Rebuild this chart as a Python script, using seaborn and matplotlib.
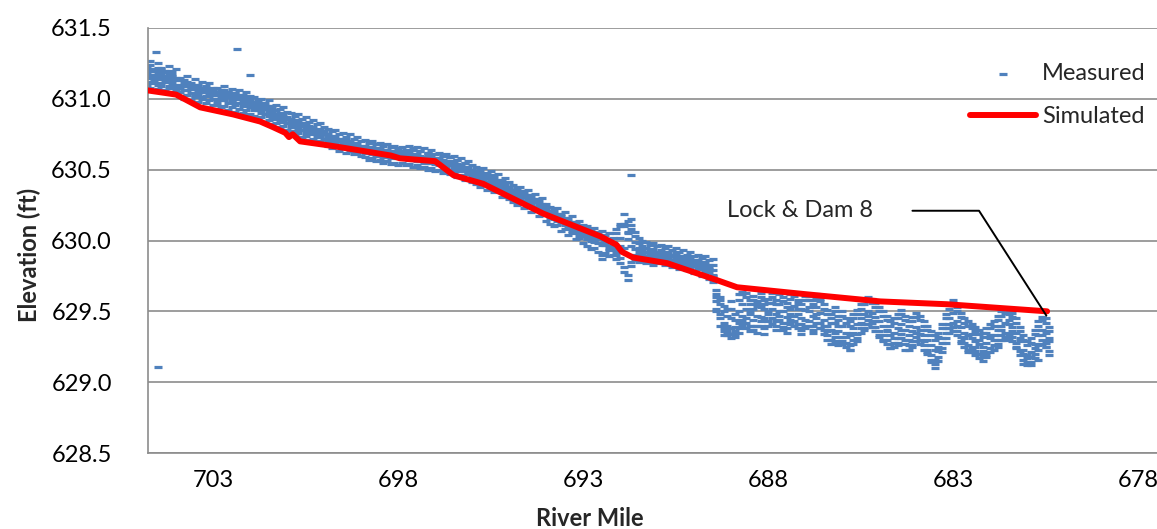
import matplotlib
matplotlib.use("Agg")
import matplotlib.pyplot as plt
import matplotlib.ticker as mticker
import numpy as np
import pandas as pd
import seaborn as sns

# river mile stations of the measured profile (0.1 mi apart)
station_mile = [
    704.8, 704.7, 704.6, 704.5, 704.4, 704.3, 704.2, 704.1, 704.0,
    703.9, 703.8, 703.7, 703.6, 703.5, 703.4, 703.3, 703.2, 703.1, 703.0,
    702.9, 702.8, 702.7, 702.6, 702.5, 702.4, 702.3, 702.2, 702.1, 702.0,
    701.9, 701.8, 701.7, 701.6, 701.5, 701.4, 701.3, 701.2, 701.1, 701.0,
    700.9, 700.8, 700.7, 700.6, 700.5, 700.4, 700.3, 700.2, 700.1, 700.0,
    699.9, 699.8, 699.7, 699.6, 699.5, 699.4, 699.3, 699.2, 699.1, 699.0,
    698.9, 698.8, 698.7, 698.6, 698.5, 698.4, 698.3, 698.2, 698.1, 698.0,
    697.9, 697.8, 697.7, 697.6, 697.5, 697.4, 697.3, 697.2, 697.1, 697.0,
    696.9, 696.8, 696.7, 696.6, 696.5, 696.4, 696.3, 696.2, 696.1, 696.0,
    695.9, 695.8, 695.7, 695.6, 695.5, 695.4, 695.3, 695.2, 695.1, 695.0,
    694.9, 694.8, 694.7, 694.6, 694.5, 694.4, 694.3, 694.2, 694.1, 694.0,
    693.9, 693.8, 693.7, 693.6, 693.5, 693.4, 693.3, 693.2, 693.1, 693.0,
    692.9, 692.8, 692.7, 692.6, 692.5, 692.4, 692.3, 692.2, 692.1, 692.0,
    691.9, 691.8, 691.7, 691.6, 691.5, 691.4, 691.3, 691.2, 691.1, 691.0,
    690.9, 690.8, 690.7, 690.6, 690.5, 690.4, 690.3, 690.2, 690.1, 690.0,
    689.9, 689.8, 689.7, 689.6, 689.5, 689.4, 689.3, 689.2, 689.1, 689.0,
    688.9, 688.8, 688.7, 688.6, 688.5, 688.4, 688.3, 688.2, 688.1, 688.0,
    687.9, 687.8, 687.7, 687.6, 687.5, 687.4, 687.3, 687.2, 687.1, 687.0,
    686.9, 686.8, 686.7, 686.6, 686.5, 686.4, 686.3, 686.2, 686.1, 686.0,
    685.9, 685.8, 685.7, 685.6, 685.5, 685.4, 685.3, 685.2, 685.1, 685.0,
    684.9, 684.8, 684.7, 684.6, 684.5, 684.4, 684.3, 684.2, 684.1, 684.0,
    683.9, 683.8, 683.7, 683.6, 683.5, 683.4, 683.3, 683.2, 683.1, 683.0,
    682.9, 682.8, 682.7, 682.6, 682.5, 682.4, 682.3, 682.2, 682.1, 682.0,
    681.9, 681.8, 681.7, 681.6, 681.5, 681.4, 681.3, 681.2, 681.1, 681.0,
    680.9, 680.8, 680.7, 680.6, 680.5, 680.4,
]

# six readings per station, spread across the measured band
meas_a = [
    631.22, 631.24, 631.17, 631.19, 631.21, 631.16, 631.18, 631.14, 631.15,
    631.13, 631.09, 631.12, 631.07, 631.10, 631.06, 631.08, 631.05, 631.07, 631.03,
    631.05, 631.02, 631.06, 631.01, 631.04, 631.00, 631.03, 630.99, 631.02, 630.98,
    630.98, 630.95, 630.97, 630.93, 630.95, 630.91, 630.92, 630.88, 630.89, 630.86,
    630.86, 630.83, 630.85, 630.81, 630.83, 630.79, 630.80, 630.77, 630.78, 630.75,
    630.75, 630.72, 630.74, 630.70, 630.72, 630.69, 630.70, 630.67, 630.69, 630.66,
    630.67, 630.64, 630.66, 630.63, 630.65, 630.62, 630.64, 630.61, 630.63, 630.60,
    630.63, 630.60, 630.62, 630.64, 630.61, 630.63, 630.59, 630.62, 630.60, 630.58,
    630.58, 630.60, 630.56, 630.59, 630.55, 630.57, 630.53, 630.55, 630.51, 630.50,
    630.49, 630.46, 630.47, 630.44, 630.45, 630.42, 630.43, 630.39, 630.40, 630.37,
    630.36, 630.33, 630.35, 630.31, 630.32, 630.28, 630.29, 630.25, 630.26, 630.22,
    630.21, 630.18, 630.19, 630.15, 630.16, 630.12, 630.13, 630.09, 630.10, 630.07,
    630.06, 630.03, 630.04, 630.01, 630.02, 629.99, 630.00, 629.97, 630.05, 630.10,
    630.19, 630.14, 630.08, 630.03, 629.98, 629.96, 629.95, 629.93, 629.94, 629.92,
    629.93, 629.91, 629.92, 629.89, 629.91, 629.88, 629.89, 629.86, 629.88, 629.85,
    629.86, 629.84, 629.85, 629.81, 629.83, 629.60, 629.55, 629.50, 629.47, 629.52,
    629.44, 629.58, 629.62, 629.60, 629.55, 629.58, 629.54, 629.60, 629.52, 629.56,
    629.60, 629.55, 629.62, 629.57, 629.53, 629.59, 629.61, 629.56, 629.52, 629.58,
    629.58, 629.55, 629.60, 629.57, 629.52, 629.48, 629.45, 629.50, 629.44, 629.47,
    629.42, 629.40, 629.45, 629.48, 629.52, 629.55, 629.58, 629.56, 629.53, 629.50,
    629.47, 629.44, 629.40, 629.42, 629.45, 629.48, 629.44, 629.40, 629.43, 629.46,
    629.44, 629.40, 629.37, 629.33, 629.30, 629.32, 629.38, 629.45, 629.52, 629.56,
    629.50, 629.46, 629.42, 629.40, 629.38, 629.36, 629.34, 629.32, 629.35, 629.38,
    629.40, 629.44, 629.47, 629.49, 629.48, 629.46, 629.42, 629.36, 629.30, 629.26,
    629.28, 629.34, 629.40, 629.44, 629.42, 629.36,
]
meas_b = [
    631.15, 631.12, 631.20, 631.14, 631.11, 631.19, 631.13, 631.16, 631.10,
    631.08, 631.12, 631.06, 631.10, 631.04, 631.09, 631.05, 631.08, 631.02, 631.06,
    631.00, 631.04, 630.99, 631.03, 630.98, 631.02, 630.97, 631.01, 630.96, 631.00,
    630.94, 630.97, 630.92, 630.95, 630.90, 630.93, 630.88, 630.90, 630.85, 630.87,
    630.82, 630.85, 630.80, 630.83, 630.78, 630.81, 630.76, 630.79, 630.74, 630.77,
    630.71, 630.74, 630.69, 630.72, 630.68, 630.71, 630.66, 630.69, 630.65, 630.67,
    630.63, 630.66, 630.62, 630.65, 630.61, 630.64, 630.60, 630.63, 630.59, 630.62,
    630.59, 630.62, 630.58, 630.61, 630.57, 630.60, 630.56, 630.59, 630.55, 630.57,
    630.55, 630.57, 630.53, 630.56, 630.52, 630.54, 630.50, 630.52, 630.48, 630.47,
    630.45, 630.48, 630.43, 630.46, 630.41, 630.44, 630.39, 630.41, 630.36, 630.38,
    630.32, 630.35, 630.30, 630.33, 630.27, 630.30, 630.24, 630.27, 630.21, 630.24,
    630.17, 630.20, 630.15, 630.17, 630.12, 630.14, 630.09, 630.11, 630.05, 630.08,
    630.02, 630.05, 630.00, 630.03, 629.98, 630.01, 629.96, 629.99, 629.94, 630.02,
    630.12, 630.06, 630.15, 629.99, 629.95, 629.93, 629.92, 629.90, 629.91, 629.89,
    629.90, 629.92, 629.88, 629.90, 629.87, 629.89, 629.85, 629.87, 629.84, 629.86,
    629.82, 629.85, 629.80, 629.83, 629.79, 629.52, 629.48, 629.42, 629.40, 629.45,
    629.36, 629.50, 629.55, 629.52, 629.48, 629.52, 629.47, 629.53, 629.45, 629.50,
    629.52, 629.48, 629.55, 629.50, 629.46, 629.52, 629.54, 629.48, 629.45, 629.51,
    629.50, 629.47, 629.53, 629.49, 629.44, 629.40, 629.37, 629.42, 629.36, 629.40,
    629.35, 629.33, 629.38, 629.41, 629.45, 629.48, 629.50, 629.49, 629.46, 629.43,
    629.40, 629.37, 629.33, 629.35, 629.38, 629.41, 629.37, 629.33, 629.36, 629.39,
    629.37, 629.33, 629.30, 629.26, 629.23, 629.25, 629.31, 629.38, 629.45, 629.49,
    629.43, 629.39, 629.35, 629.33, 629.31, 629.29, 629.27, 629.25, 629.28, 629.31,
    629.33, 629.37, 629.40, 629.42, 629.41, 629.39, 629.35, 629.29, 629.23, 629.19,
    629.21, 629.27, 629.33, 629.37, 629.35, 629.29,
]
meas_c = [
    631.19, 631.17, 631.13, 631.22, 631.16, 631.12, 631.20, 631.11, 631.13,
    631.10, 631.06, 631.09, 631.04, 631.08, 631.03, 631.07, 631.02, 631.05, 631.00,
    631.03, 630.99, 631.02, 630.97, 631.01, 630.96, 631.00, 630.95, 630.99, 630.94,
    630.96, 630.92, 630.94, 630.89, 630.92, 630.87, 630.89, 630.85, 630.87, 630.83,
    630.84, 630.80, 630.82, 630.78, 630.80, 630.76, 630.78, 630.74, 630.76, 630.72,
    630.73, 630.70, 630.71, 630.67, 630.70, 630.66, 630.68, 630.65, 630.67, 630.64,
    630.65, 630.62, 630.64, 630.60, 630.63, 630.59, 630.62, 630.58, 630.61, 630.58,
    630.61, 630.58, 630.60, 630.57, 630.59, 630.56, 630.58, 630.55, 630.57, 630.54,
    630.57, 630.54, 630.55, 630.53, 630.54, 630.51, 630.52, 630.49, 630.50, 630.45,
    630.47, 630.43, 630.45, 630.41, 630.43, 630.39, 630.41, 630.37, 630.38, 630.34,
    630.34, 630.30, 630.32, 630.28, 630.29, 630.25, 630.27, 630.22, 630.24, 630.19,
    630.19, 630.15, 630.17, 630.13, 630.14, 630.10, 630.11, 630.06, 630.08, 630.03,
    630.04, 630.00, 630.02, 629.98, 629.87, 629.97, 629.94, 629.95, 629.92, 629.96,
    629.95, 630.01, 629.96, 629.94, 629.92, 629.90, 629.89, 629.92, 629.88, 629.90,
    629.91, 629.88, 629.90, 629.86, 629.88, 629.85, 629.87, 629.83, 629.85, 629.82,
    629.84, 629.80, 629.82, 629.78, 629.76, 629.57, 629.60, 629.38, 629.35, 629.38,
    629.32, 629.42, 629.47, 629.45, 629.40, 629.44, 629.40, 629.46, 629.38, 629.43,
    629.45, 629.40, 629.47, 629.42, 629.38, 629.44, 629.47, 629.41, 629.37, 629.44,
    629.43, 629.40, 629.45, 629.42, 629.37, 629.33, 629.30, 629.35, 629.29, 629.32,
    629.28, 629.26, 629.30, 629.34, 629.38, 629.41, 629.44, 629.42, 629.39, 629.36,
    629.33, 629.30, 629.27, 629.28, 629.31, 629.34, 629.30, 629.26, 629.29, 629.32,
    629.30, 629.26, 629.23, 629.19, 629.16, 629.18, 629.24, 629.31, 629.38, 629.42,
    629.36, 629.32, 629.28, 629.26, 629.24, 629.22, 629.20, 629.18, 629.21, 629.24,
    629.26, 629.30, 629.33, 629.35, 629.34, 629.32, 629.28, 629.22, 629.16, 629.14,
    629.14, 629.20, 629.26, 629.30, 629.28, 629.22,
]
meas_d = [
    631.12, 631.20, 631.15, 631.10, 631.18, 631.14, 631.09, 631.17, 631.08,
    631.05, 631.10, 631.03, 631.08, 631.02, 631.07, 631.01, 631.06, 631.03, 631.05,
    630.98, 631.06, 631.00, 631.05, 630.99, 631.04, 631.01, 630.97, 631.00, 630.96,
    630.92, 630.96, 630.90, 630.94, 630.88, 630.91, 630.86, 630.89, 630.84, 630.86,
    630.80, 630.84, 630.78, 630.82, 630.76, 630.79, 630.75, 630.77, 630.73, 630.75,
    630.70, 630.73, 630.68, 630.71, 630.67, 630.70, 630.65, 630.68, 630.63, 630.66,
    630.62, 630.65, 630.61, 630.64, 630.60, 630.62, 630.59, 630.61, 630.60, 630.63,
    630.58, 630.61, 630.57, 630.60, 630.56, 630.59, 630.55, 630.61, 630.58, 630.56,
    630.53, 630.56, 630.52, 630.54, 630.50, 630.53, 630.49, 630.51, 630.47, 630.49,
    630.44, 630.47, 630.42, 630.44, 630.40, 630.42, 630.38, 630.40, 630.35, 630.36,
    630.31, 630.34, 630.29, 630.31, 630.26, 630.29, 630.23, 630.25, 630.20, 630.21,
    630.16, 630.19, 630.14, 630.16, 630.11, 630.13, 630.07, 630.09, 630.04, 630.05,
    630.01, 630.04, 629.99, 630.02, 629.97, 629.99, 629.93, 629.96, 629.90, 629.88,
    629.78, 629.72, 629.82, 629.90, 629.89, 629.91, 629.87, 629.88, 629.86, 629.87,
    629.88, 629.90, 629.86, 629.89, 629.85, 629.87, 629.84, 629.86, 629.82, 629.84,
    629.80, 629.83, 629.78, 629.80, 629.75, 629.62, 629.45, 629.33, 629.36, 629.31,
    629.39, 629.35, 629.40, 629.38, 629.50, 629.37, 629.55, 629.40, 629.58, 629.48,
    629.56, 629.43, 629.50, 629.37, 629.42, 629.48, 629.40, 629.52, 629.41, 629.38,
    629.53, 629.35, 629.48, 629.38, 629.40, 629.36, 629.42, 629.28, 629.40, 629.27,
    629.32, 629.23, 629.35, 629.29, 629.42, 629.37, 629.47, 629.39, 629.43, 629.32,
    629.29, 629.36, 629.24, 629.31, 629.26, 629.37, 629.23, 629.30, 629.25, 629.35,
    629.34, 629.29, 629.21, 629.14, 629.10, 629.22, 629.28, 629.35, 629.41, 629.36,
    629.40, 629.28, 629.31, 629.21, 629.34, 629.25, 629.30, 629.22, 629.19, 629.33,
    629.30, 629.25, 629.37, 629.30, 629.44, 629.36, 629.24, 629.31, 629.20, 629.17,
    629.18, 629.24, 629.16, 629.33, 629.25, 629.31,
]
# upper edge of the band
meas_e = [
    631.24, 631.27, 631.21, 631.25, 631.22, 631.20, 631.23, 631.19, 631.21,
    631.15, 631.13, 631.16, 631.11, 631.14, 631.10, 631.12, 631.09, 631.11, 631.08,
    631.08, 631.06, 631.09, 631.05, 631.07, 631.04, 631.06, 631.03, 631.05, 631.02,
    631.01, 630.99, 631.00, 630.97, 630.99, 630.95, 630.96, 630.93, 630.94, 630.91,
    630.90, 630.88, 630.89, 630.86, 630.87, 630.84, 630.85, 630.82, 630.83, 630.80,
    630.79, 630.77, 630.78, 630.75, 630.76, 630.73, 630.75, 630.72, 630.73, 630.70,
    630.71, 630.69, 630.70, 630.68, 630.69, 630.67, 630.68, 630.66, 630.67, 630.65,
    630.66, 630.64, 630.67, 630.65, 630.66, 630.63, 630.65, 630.62, 630.64, 630.61,
    630.62, 630.60, 630.61, 630.59, 630.60, 630.57, 630.58, 630.55, 630.56, 630.53,
    630.52, 630.50, 630.51, 630.48, 630.49, 630.46, 630.47, 630.43, 630.44, 630.41,
    630.39, 630.37, 630.38, 630.35, 630.36, 630.32, 630.33, 630.29, 630.30, 630.26,
    630.24, 630.22, 630.23, 630.19, 630.20, 630.16, 630.17, 630.13, 630.14, 630.11,
    630.10, 630.08, 630.09, 630.06, 630.07, 630.04, 630.05, 630.02, 630.08, 630.12,
    630.10, 630.05, 630.11, 630.06, 630.02, 630.00, 629.99, 629.97, 629.98, 629.96,
    629.97, 629.95, 629.96, 629.93, 629.95, 629.92, 629.93, 629.90, 629.92, 629.89,
    629.90, 629.88, 629.89, 629.86, 629.87, 629.65, 629.58, 629.54, 629.52, 629.57,
    629.48, 629.62, 629.64, 629.63, 629.58, 629.61, 629.57, 629.63, 629.55, 629.59,
    629.63, 629.58, 629.64, 629.60, 629.56, 629.62, 629.63, 629.58, 629.55, 629.61,
    629.61, 629.58, 629.62, 629.59, 629.55, 629.51, 629.48, 629.53, 629.47, 629.50,
    629.45, 629.43, 629.48, 629.51, 629.55, 629.58, 629.60, 629.59, 629.56, 629.53,
    629.50, 629.47, 629.43, 629.45, 629.48, 629.51, 629.47, 629.43, 629.46, 629.49,
    629.47, 629.43, 629.40, 629.36, 629.33, 629.35, 629.41, 629.48, 629.55, 629.58,
    629.53, 629.49, 629.45, 629.43, 629.41, 629.39, 629.37, 629.35, 629.38, 629.41,
    629.43, 629.47, 629.50, 629.52, 629.51, 629.49, 629.45, 629.39, 629.33, 629.29,
    629.31, 629.37, 629.43, 629.46, 629.45, 629.39,
]
# lower edge of the band
meas_f = [
    631.10, 631.08, 631.11, 631.07, 631.09, 631.06, 631.08, 631.05, 631.06,
    631.02, 631.00, 631.03, 630.99, 631.01, 630.98, 631.00, 630.97, 630.99, 630.96,
    630.96, 630.94, 630.95, 630.92, 630.94, 630.91, 630.93, 630.90, 630.92, 630.89,
    630.88, 630.86, 630.87, 630.84, 630.85, 630.82, 630.83, 630.80, 630.81, 630.78,
    630.77, 630.75, 630.76, 630.73, 630.74, 630.71, 630.72, 630.69, 630.70, 630.68,
    630.67, 630.65, 630.66, 630.63, 630.65, 630.62, 630.63, 630.61, 630.62, 630.60,
    630.59, 630.57, 630.58, 630.56, 630.57, 630.55, 630.56, 630.54, 630.55, 630.53,
    630.55, 630.53, 630.54, 630.52, 630.53, 630.51, 630.52, 630.50, 630.51, 630.49,
    630.50, 630.48, 630.49, 630.47, 630.48, 630.45, 630.46, 630.43, 630.44, 630.41,
    630.40, 630.38, 630.39, 630.36, 630.37, 630.34, 630.35, 630.31, 630.32, 630.29,
    630.27, 630.25, 630.26, 630.23, 630.24, 630.20, 630.21, 630.17, 630.18, 630.14,
    630.12, 630.10, 630.11, 630.07, 630.08, 630.04, 630.05, 630.01, 630.02, 629.98,
    629.96, 629.94, 629.95, 629.92, 629.90, 629.91, 629.89, 629.90, 629.87, 629.84,
    629.81, 629.76, 629.85, 629.86, 629.85, 629.86, 629.84, 629.85, 629.83, 629.84,
    629.85, 629.83, 629.84, 629.81, 629.83, 629.80, 629.82, 629.79, 629.80, 629.77,
    629.77, 629.75, 629.76, 629.73, 629.71, 629.50, 629.40, 629.36, 629.33, 629.34,
    629.34, 629.38, 629.44, 629.42, 629.36, 629.40, 629.35, 629.43, 629.34, 629.40,
    629.41, 629.37, 629.44, 629.39, 629.35, 629.41, 629.43, 629.38, 629.34, 629.40,
    629.40, 629.37, 629.42, 629.38, 629.34, 629.30, 629.27, 629.32, 629.26, 629.29,
    629.25, 629.23, 629.27, 629.31, 629.35, 629.38, 629.41, 629.39, 629.36, 629.33,
    629.30, 629.27, 629.24, 629.25, 629.28, 629.31, 629.27, 629.23, 629.26, 629.29,
    629.27, 629.23, 629.20, 629.16, 629.13, 629.15, 629.21, 629.28, 629.35, 629.39,
    629.33, 629.29, 629.25, 629.23, 629.21, 629.19, 629.17, 629.15, 629.18, 629.21,
    629.23, 629.27, 629.30, 629.32, 629.31, 629.29, 629.25, 629.19, 629.13, 629.12,
    629.12, 629.17, 629.23, 629.27, 629.25, 629.19,
]

# stray readings away from the main band
outlier_mile = [704.55, 704.5, 702.35, 702.0, 691.7]
outlier_elev = [631.33, 629.11, 631.35, 631.17, 630.46]

# simulated water surface profile
sim_mile = [704.78, 704.0, 703.35, 702.46, 701.73, 701.38, 701.05, 700.95, 700.85,
            700.65, 699.84, 698.9, 698.2, 697.95, 697.0, 696.7, 696.5, 695.7,
            694.08, 692.54, 692.1, 691.95, 691.65, 690.73, 689.38, 688.84,
            686.95, 684.97, 683.16, 680.46]
sim_elev = [631.06, 631.03, 630.94, 630.89, 630.84, 630.80, 630.76, 630.73, 630.75,
            630.70, 630.67, 630.63, 630.60, 630.58, 630.56, 630.50, 630.46, 630.40,
            630.19, 630.03, 629.97, 629.92, 629.88, 629.84, 629.72, 629.67,
            629.62, 629.57, 629.55, 629.50]

# callout for the dam
note_text = "Lock & Dam 8"
note_mile = [684.1, 682.3, 680.48]
note_elev = [630.21, 630.21, 629.47]

stations = pd.DataFrame({"mile": station_mile, "a": meas_a, "b": meas_b,
                         "c": meas_c, "d": meas_d, "e": meas_e, "f": meas_f})
measured = stations.melt(id_vars="mile", value_name="elev")[["mile", "elev"]]
measured = pd.concat([measured, pd.DataFrame({"mile": outlier_mile,
                                              "elev": outlier_elev})])
simulated = pd.DataFrame({"mile": sim_mile, "elev": sim_elev})

sns.set_style("white")
plt.rcParams["font.family"] = ["Lato", "DejaVu Sans"]

fig = plt.figure(figsize=(11.57, 5.29), dpi=100)
ax = fig.add_axes([148 / 1157, 76 / 529, 1009 / 1157, 425 / 529])

sns.scatterplot(data=measured, x="mile", y="elev", marker="_", s=28,
                linewidth=2.3, color="#4F81BD", label="Measured", ax=ax,
                zorder=2)
sns.lineplot(data=simulated, x="mile", y="elev", color="#FF0000", linewidth=4.3,
             label="Simulated", ax=ax, zorder=3)

ax.plot(note_mile, note_elev, color="black", linewidth=1.4, zorder=4)
ax.text(689.1, 630.21, note_text, ha="left", va="center", fontsize=17)

ax.set_xlim(704.76, 677.49)
ax.set_ylim(628.5, 631.5)
ax.set_xticks([703, 698, 693, 688, 683, 678])
ax.set_yticks(np.arange(628.5, 631.51, 0.5))
ax.yaxis.set_major_formatter(mticker.FormatStrFormatter("%.1f"))
ax.tick_params(axis="both", labelsize=17, colors="black")
ax.tick_params(axis="x", length=0, pad=12)
ax.tick_params(axis="y", length=0, pad=26)
ax.grid(axis="y", color="#8C8C8C", linewidth=1.2)
ax.grid(axis="x", visible=False)

for side in ["top", "right"]:
    ax.spines[side].set_visible(False)
for side in ["left", "bottom"]:
    ax.spines[side].set_color("#8C8C8C")
    ax.spines[side].set_linewidth(1.2)

ax.set_xlabel("River Mile", fontsize=17, fontweight="bold")
ax.set_ylabel("Elevation (ft)", fontsize=17, fontweight="bold")
ax.xaxis.set_label_coords(0.438, -0.128)
ax.yaxis.set_label_coords(-0.106, 0.466)

leg = ax.legend(loc="upper left", bbox_to_anchor=(0.815, 0.918), frameon=False,
                fontsize=17, borderpad=0, borderaxespad=0, handlelength=2.8,
                handletextpad=0.25, labelspacing=0.95)

fig.savefig("out.png", dpi=100)
